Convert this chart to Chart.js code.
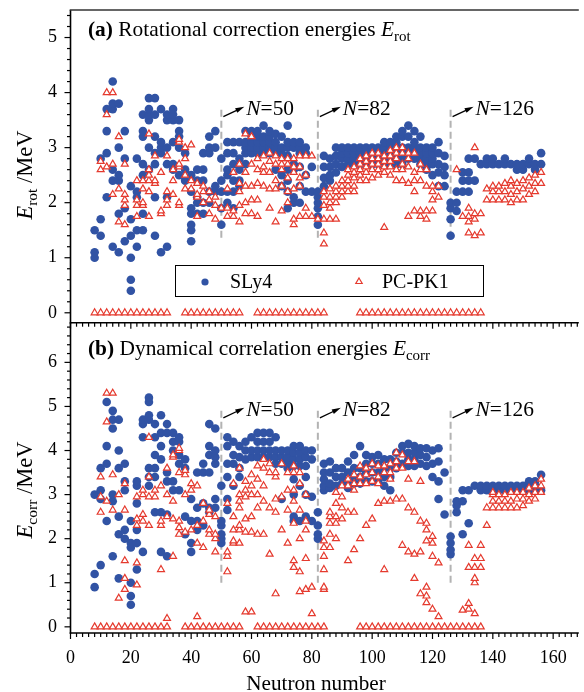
<!DOCTYPE html>
<html><head><meta charset="utf-8">
<script src="https://cdn.jsdelivr.net/npm/chart.js@4.4.1/dist/chart.umd.min.js"></script>
<style>
html,body{margin:0;padding:0;background:#fff;}
#wrap{position:relative;width:584px;height:692px;overflow:hidden;background:#fff;}
canvas{position:absolute;left:0;}
#ca{top:0;}
#cb{top:315px;}
</style></head><body>
<div id="wrap"><canvas id="cb" width="584" height="377"></canvas><canvas id="ca" width="584" height="330"></canvas></div>
<script>
// ---------- DATA ----------
const xTicks = [0,20,40,60,80,100,120,140,160];
const yTicksRot = [0,1,2,3,4,5];
const yTicksCorr = [0,1,2,3,4,5,6];
const shellN = [50,82,126];
const shellLabels = ['50','82','126'];

// (a) rotational correction energies, SLy4: [N, [E...]]
const rotSLy4 = [
[8,[1.0,1.1,1.5]],[10,[1.4,1.7,2.8]],[12,[2.1,2.9,3.3,3.7]],[14,[1.2,2.4,2.6,3.7,3.8,4.2]],
[16,[1.1,1.8,2.4,2.5,3.0,3.8]],[18,[1.3,1.9,2.8,3.3]],[20,[0.4,0.6,1.0,1.4,1.7,2.3]],
[22,[1.2,1.5,2.1,2.2,2.8]],[24,[1.5,1.8,2.5,2.7,3.2,3.3,3.6]],[26,[2.6,3.0,3.5,3.6,3.7,3.9]],
[28,[1.4,2.1,2.7,2.9,3.2,3.6,3.9]],[30,[1.1,2.9,3.0,3.1,3.7]],[32,[1.2,2.1,2.7,3.0,3.5,3.6]],
[34,[2.6,2.7,3.1,3.5,3.6,3.7]],[36,[2.5,3.0,3.2,3.3,3.5]],[38,[2.4,2.6,2.9]],
[40,[1.3,1.5,1.6,1.8,1.9,2.2,2.5]],[42,[1.8,2.0,2.1,2.4,2.6]],[44,[1.8,2.0,2.4,2.6,2.9]],
[46,[2.0,2.2,2.9,3.0,3.2]],[48,[2.2,2.3,3.0,3.3]],[50,[1.6,1.9,2.2,2.4,2.8]],
[52,[2.0,2.2,2.5,2.6,2.9,3.1]],[54,[1.9,2.2,2.4,2.7,2.9,3.1]],[56,[2.3,2.4,2.6,2.8,3.1]],
[58,[2.7,2.9,3.0,3.1,3.3]],[60,[2.9,3.0,3.1,3.2,3.3]],[62,[2.9,3.0,3.1,3.2,3.3]],
[64,[2.9,3.0,3.1,3.2,3.4]],[66,[2.9,3.0,3.1,3.2,3.3]],[68,[2.6,2.9,3.0,3.1,3.25]],
[70,[2.3,2.5,2.9,3.0,3.2]],[72,[1.9,2.2,2.4,2.6,2.85,3.0,3.1,3.4]],[74,[2.0,2.1,2.6,2.7,3.0,3.1]],
[76,[2.0,2.3,2.65,2.9,3.0,3.1]],[78,[2.2,2.5,2.9,3.0]],[80,[2.2,2.65]],
[82,[1.6,1.75,1.9,2.0,2.1,2.2]],[84,[2.3,2.45,2.65,2.85]],[86,[2.4,2.5,2.65,2.8]],
[88,[2.55,2.7,2.85,3.0]],[90,[2.65,2.8,2.9,3.0]],[92,[2.7,2.8,2.9,3.0]],[94,[2.7,2.8,2.9,3.0]],
[96,[2.7,2.8,2.9,3.0]],[98,[2.7,2.8,2.9,3.0]],[100,[2.7,2.8,2.9,3.0]],[102,[2.7,2.8,2.9,3.0]],
[104,[2.7,2.8,2.9,3.0,3.1]],[106,[2.7,2.8,2.9,3.0,3.1]],[108,[2.7,2.8,2.9,3.0,3.1,3.2]],
[110,[2.7,2.8,2.9,3.0,3.2,3.3]],[112,[2.8,2.9,3.0,3.2,3.4]],[114,[2.8,2.9,3.0,3.1,3.3]],
[116,[2.7,2.8,2.9,3.0,3.2]],[118,[2.6,2.7,2.8,2.9,3.0]],[120,[2.5,2.7,2.8,2.9,3.0]],
[122,[2.3,2.55,2.7,2.9,3.1]],[124,[2.3,2.5,2.65,2.85]],[126,[1.4,1.7,1.9,2.0]],
[128,[1.85,2.0,2.2]],[130,[2.2,2.4,2.55]],[132,[2.2,2.4,2.55,2.8]],[134,[2.4,2.8]],
[136,[2.7]],[138,[2.7,2.8]],[140,[2.7,2.8]],[142,[2.7]],[144,[2.7,2.8]],[146,[2.7]],
[148,[2.6,2.7]],[150,[2.6,2.7]],[152,[2.7,2.8]],[154,[2.6,2.7]],[156,[2.7,2.9]]
];
// (a) PC-PK1 non-zero values
const rotPCPK1 = [
[10,[2.6,2.75]],[12,[2.65,3.6,4.0]],[14,[2.15,2.7,4.0]],[16,[1.65,2.25,3.2]],
[18,[1.6,1.95,2.05,2.15,2.7]],[22,[1.75,1.95,2.05,2.4]],[24,[1.95,2.0,2.25,2.4]],
[26,[1.75,2.2,2.4,2.5,2.6,3.25]],[28,[2.35,2.4,2.85]],[30,[1.8,1.85,2.55]],
[32,[1.95,2.05,2.2,2.85]],[34,[2.15,2.4,2.6]],[36,[1.95,2.0,2.65,2.7,3.1,3.15]],
[38,[2.25,2.5,2.8,3.0]],[40,[2.25,2.4,3.05]],[42,[1.75,2.1,2.15,2.35]],[44,[2.0,2.2,2.3]],
[46,[1.8,2.05,2.2]],[48,[1.7,1.95,2.1]],[50,[1.9]],[52,[1.75,1.9,2.25]],[54,[1.75,1.85,2.55]],
[56,[1.65,1.95,2.2,2.35,2.7]],[58,[1.8,2.0,2.3,2.55,3.25]],[60,[1.8,2.05,2.3,2.7,3.2]],
[62,[1.75,2.05,2.35,2.6,2.8]],[64,[2.3,2.55,2.65,2.85]],[66,[1.9,2.25,2.55,2.75,2.9]],
[68,[1.65,2.25,2.4,2.7,2.85]],[70,[1.85,2.3,2.6,2.7,2.8]],[72,[2.0,2.2,2.45,2.7,2.8]],
[74,[1.6,1.7,2.25,2.55,2.65,2.8]],[76,[1.75,2.3,2.45,2.65,2.85]],[78,[1.75,1.9,2.5,2.85]],
[80,[1.75,2.85]],[82,[1.7]],[84,[1.25,1.45,1.7,1.95,2.1,2.2]],[86,[1.7,1.9,2.0,2.1,2.25]],
[88,[1.7,2.0,2.1,2.2,2.3]],[90,[2.1,2.2,2.3,2.4]],[92,[2.2,2.3,2.4,2.5,2.6]],
[94,[2.2,2.3,2.45,2.55,2.65]],[96,[2.4,2.5,2.6,2.7,2.8]],[98,[2.4,2.55,2.65,2.75,2.85]],
[100,[2.45,2.6,2.7,2.8,2.9]],[102,[2.5,2.6,2.7,2.8,2.9]],[104,[1.55,2.55,2.65,2.75,2.85]],
[106,[2.5,2.65,2.75,2.85,2.95]],[108,[2.4,2.6,2.8,2.9,3.0]],[110,[2.4,2.6,2.7,2.9,3.0]],
[112,[1.75,2.35,2.65,2.8,2.9]],[114,[1.85,2.2,2.4,2.55,2.9]],[116,[1.75,1.85,2.4,2.6,2.7]],
[118,[1.7,1.85,2.3,2.6]],[120,[1.85,2.05,2.2,2.3]],[122,[2.1,2.3]],[128,[2.6]],[130,[1.75]],
[132,[1.45,1.65,1.75,1.9]],[134,[1.4,1.7,1.8,3.0]],[136,[1.45,1.8]],[138,[2.05,2.25]],
[140,[2.05,2.2,2.3]],[142,[2.05,2.2,2.3]],[144,[2.05,2.2,2.35]],[146,[2.0,2.15,2.3,2.4]],
[148,[2.05,2.2,2.35]],[150,[2.05,2.25,2.4]],[152,[2.15,2.3,2.45]],[154,[2.2,2.35,2.5]],[156,[2.35,2.55]]
];
const rotPCPK1ZeroN = [8,10,12,14,16,18,20,22,24,26,28,30,32,38,40,42,44,46,48,50,52,54,56,
62,64,66,68,70,72,74,76,78,80,82,84,96,98,100,102,104,106,108,110,112,114,116,118,120,122,124,126,128,130,132,134,136];

// (b) dynamical correlation energies, SLy4
const corrSLy4 = [
[8,[0.9,1.2,3.0]],[10,[1.4,2.9,3.1,3.6]],[12,[2.4,3.7,4.1,5.1]],[14,[1.6,2.85,3.0,4.5,4.7,4.9]],
[16,[1.1,2.1,2.5,3.6,4.0,4.7]],[18,[2.0,2.2,3.1,3.3,3.7]],[20,[0.5,0.7,1.0,1.8,1.9,2.4]],
[22,[1.3,1.9,2.2,2.8,3.2,3.3]],[24,[1.7,4.3,4.6,4.7]],[26,[3.2,3.4,3.6,4.7,4.8,5.1,5.2]],
[28,[2.6,3.4,3.6,3.9,4.3,4.6]],[30,[1.7,2.6,3.8,4.1,4.4,4.8]],[32,[1.6,2.55,3.3,3.5,4.4,4.6]],
[34,[3.1,3.3,4.0,4.2,4.4]],[36,[3.1,3.7,3.9,4.2,4.3]],[38,[2.1,2.5,3.6,3.8]],
[40,[1.7,1.9,2.4,2.9]],[42,[2.2,2.4,2.7,3.5]],[44,[2.3,2.8,3.5,3.7]],
[46,[2.6,2.7,3.5,3.9,4.1,4.6]],[48,[2.7,2.9,3.7,3.85,4.0,4.5]],[50,[1.9,2.0,2.1,2.3,2.4,3.2]],
[52,[2.65,2.9,3.4,3.7,4.1,4.3]],[54,[3.2,3.7,3.9,4.2]],[56,[3.4,3.6,3.85,4.1]],
[58,[3.8,4.0,4.2]],[60,[3.85,4.0,4.3]],[62,[3.85,4.0,4.2,4.4]],[64,[3.85,4.0,4.2,4.4]],
[66,[3.85,4.0,4.2,4.4]],[68,[3.7,3.85,4.0,4.3]],[70,[2.9,3.7,3.85,4.0]],[72,[3.6,3.7,3.8,3.85,4.0]],
[74,[2.4,2.5,3.0,3.35,3.65,3.8,3.95,4.1]],[76,[2.4,3.2,3.65,3.8,3.95,4.1]],[78,[2.5,3.0,3.4,3.65,3.85,4.0]],
[80,[2.4,2.95,3.8,4.0]],[82,[2.0,2.1,2.3,2.6]],[84,[3.1,3.2,3.35,3.5,3.7]],[86,[3.15,3.25,3.5,3.75]],
[88,[3.2,3.4,3.6]],[90,[3.25,3.4,3.6]],[92,[3.15,3.25,3.5,3.75]],[94,[3.25,3.4,3.6,3.9]],
[96,[3.25,3.4,3.6,4.1]],[98,[3.3,3.5,3.7,3.9]],[100,[3.3,3.5,3.7,3.85]],[102,[3.3,3.5,3.7,3.9]],
[104,[3.2,3.4,3.6,3.8]],[106,[3.1,3.4,3.6,3.8]],[108,[3.6,3.75,3.95]],[110,[3.7,3.95,4.1]],
[112,[3.65,3.8,3.95,4.15]],[114,[3.65,3.8,3.95,4.1]],[116,[3.7,3.9,4.05]],[118,[3.65,3.85,4.05]],
[120,[3.4,3.7,4.0]],[122,[2.9,3.3,3.75,4.05]],[124,[2.55,3.5]],[126,[1.65,1.75,1.9,2.05]],
[128,[2.6,2.75,2.85]],[130,[2.1,2.85,3.1]],[132,[2.35,3.1]],[134,[3.2]],[136,[3.1,3.2]],
[138,[3.1,3.2]],[140,[3.1,3.2]],[142,[3.1,3.2]],[144,[3.1,3.2]],[146,[3.1,3.2]],[148,[3.1,3.2]],
[150,[3.1,3.2]],[152,[3.1,3.2,3.3]],[154,[3.1,3.2,3.3]],[156,[3.1,3.45]]
];
// (b) PC-PK1 non-zero values
const corrPCPK1 = [
[10,[2.6,2.95,3.4]],[12,[2.85,4.65,5.3]],[14,[2.65,3.45,5.3]],[16,[0.65,3.0]],
[18,[0.85,1.1,1.5,2.65,3.25]],[22,[0.95,1.45,2.3,2.45,2.95]],[24,[2.4,2.55,3.0,3.1]],
[26,[2.3,2.95,3.4,4.3]],[28,[2.95,3.1]],[30,[1.3,2.3,2.4,3.2]],[32,[0.19,2.5,3.0,3.6]],
[34,[1.6,2.45,2.85,3.85,3.9]],[36,[2.1,2.25,2.4,3.5,4.0,4.05]],[38,[2.15,3.0,3.45,3.55]],
[40,[2.2,3.1,3.25]],[42,[0.23,1.9,2.3,3.2]],[44,[1.8,2.4,2.8]],[46,[2.1,2.2,2.55,2.65]],
[48,[1.7,2.0,2.1,2.5]],[52,[1.25,1.6,1.7,2.8]],[54,[1.9,1.95,2.2,2.5,3.25]],
[56,[1.9,2.2,2.3,2.7,2.85,3.0,3.6]],[58,[0.34,2.15,2.45,2.95,3.1,3.3]],[60,[0.34,2.15,2.5,3.0,3.2,3.45]],
[62,[2.1,2.7,3.0,3.35,3.65]],[64,[2.1,2.85,3.2,3.6,3.8]],[66,[1.65,2.7,3.5,3.7]],
[68,[0.75,2.6,2.9,3.4,3.5]],[70,[2.2,2.95,3.7]],[72,[1.9,2.65,3.1,3.5]],
[74,[1.35,1.5,2.35,2.85,3.1,3.5,3.65]],[76,[0.8,1.25,2.0,2.65,3.25,3.5]],[78,[0.85,1.55,2.2,2.4,3.0]],
[80,[0.3,0.9]],[84,[0.85,0.9,1.3,1.6,1.8,1.95]],[86,[1.8,2.1,2.35,2.5,2.6]],
[88,[2.0,2.35,2.5,2.8,3.05]],[90,[2.45,2.7,2.95,3.2]],[92,[1.5,2.6,3.2,3.35]],
[94,[1.75,2.6,3.1,3.25,3.45]],[96,[2.0,3.25,3.4,3.65]],[98,[2.3,3.25,3.45,3.6]],
[100,[2.45,3.3,3.5,3.7]],[102,[2.8,3.25,3.4,3.65]],[104,[1.3,2.85,3.5,3.65]],
[106,[2.85,3.35,3.5,3.7]],[108,[2.9,3.6,3.75,3.95]],[110,[1.85,2.9,3.6,3.9]],
[112,[1.7,2.7,3.35,3.75]],[114,[1.1,1.65,2.6,3.75]],[116,[0.75,1.7,2.4,3.3]],
[118,[0.55,0.7,0.9,1.95,2.2,2.35]],[120,[0.4,1.6,1.9,2.05]],[122,[0.23,1.45]],[130,[0.38]],
[132,[0.4,0.53,1.35,1.85]],[134,[0.3,1.0,1.1,1.35,1.55]],[136,[1.35,1.55,1.85]],[138,[2.3,2.7]],
[140,[2.7,2.85,3.0,3.05]],[142,[2.7,2.85,3.0]],[144,[2.7,2.85,3.0]],[146,[2.7,2.85,3.05]],
[148,[2.7,2.9,3.05]],[150,[2.75,2.9,3.05]],[152,[2.85,3.0,3.15]],[154,[2.9,3.05,3.2]],[156,[3.05,3.2,3.35]]
];
const corrPCPK1ZeroN = [8,10,12,14,16,18,20,22,24,26,28,30,32,38,40,42,44,46,48,50,52,54,56,
62,64,66,68,70,72,74,76,78,80,82,84,96,98,100,102,104,106,108,110,112,114,116,118,120,122,124,126,128,130,132,134,136];

// ---------- STYLE ----------
const SERIF = '"Liberation Serif","Times New Roman",serif';
const F = (st, sz) => `${st} ${sz}px ${SERIF}`;
const BLUE = '#3153a4', RED = '#e53a2e';
const TF = 21.4;

function expand(rows, zeros){
  const out = [];
  rows.forEach(([n, vals]) => vals.forEach(v => out.push({x:n, y:v})));
  (zeros||[]).forEach(n => out.push({x:n, y:0}));
  return out;
}

function drawRich(ctx, x, y, parts, align){
  let w = 0;
  parts.forEach(p => { ctx.font = p.f; p.w = ctx.measureText(p.t).width; w += p.w; });
  let cx = align === 'center' ? x - w/2 : x;
  ctx.textAlign = 'left'; ctx.textBaseline = 'alphabetic';
  parts.forEach(p => { ctx.font = p.f; ctx.fillText(p.t, cx, y + (p.dy||0)); cx += p.w; });
}

const frame = {
  id: 'frame',
  beforeDatasetsDraw(chart, args, o){
    const ctx = chart.ctx, xs = chart.scales.x, ys = chart.scales.y;
    ctx.save();
    ctx.strokeStyle = '#b3b3b3'; ctx.lineWidth = 2; ctx.setLineDash([7,4]);
    shellN.forEach(n => {
      const px = xs.getPixelForValue(n);
      ctx.beginPath(); ctx.moveTo(px, ys.getPixelForValue(o.shellTop)); ctx.lineTo(px, ys.getPixelForValue(o.shellBot)); ctx.stroke();
    });
    ctx.restore();
  },
  afterDraw(chart, args, o){
    const ctx = chart.ctx, xs = chart.scales.x, ys = chart.scales.y, ca = chart.chartArea;
    ctx.save();
    ctx.strokeStyle = '#000'; ctx.lineWidth = 1.6; ctx.setLineDash([]);
    ctx.beginPath(); ctx.moveTo(ca.left, ca.top); ctx.lineTo(ca.left, ca.bottom + 0.8); ctx.stroke();
    ctx.beginPath(); ctx.moveTo(ca.left - 0.8, ca.bottom); ctx.lineTo(ca.right, ca.bottom); ctx.stroke();
    if (o.topLine){ ctx.strokeStyle = '#333'; ctx.beginPath(); ctx.moveTo(ca.left - 0.8, ca.top); ctx.lineTo(ca.right, ca.top); ctx.stroke(); ctx.strokeStyle = '#000'; }
    ctx.lineWidth = 1.2;
    for (let v = 0; v <= xs.max + 1e-6; v += 2){
      const major = xTicks.some(t => Math.abs(t - v) < 1e-6);
      const px = xs.getPixelForValue(v);
      ctx.beginPath(); ctx.moveTo(px, ca.bottom); ctx.lineTo(px, ca.bottom + (major ? 6 : 4)); ctx.stroke();
    }
    for (let k = 0; ; k++){
      const v = k * 0.2; if (v > ys.max + 1e-6) break;
      const major = o.yTicks.some(t => Math.abs(t - v) < 1e-6);
      const py = ys.getPixelForValue(v);
      ctx.beginPath(); ctx.moveTo(ca.left, py); ctx.lineTo(ca.left - (major ? 6 : 3.5), py); ctx.stroke();
    }
    ctx.fillStyle = '#000';
    drawRich(ctx, 88, o.titleY, o.titleParts, 'left');
    ctx.save(); ctx.translate(32, o.yTitleC); ctx.rotate(-Math.PI/2);
    drawRich(ctx, 0, 0, o.yTitleParts, 'center');
    ctx.restore();
    shellN.forEach((n, i) => {
      const lx = xs.getPixelForValue(n), ly = ys.getPixelForValue(o.shellTop);
      const x0 = lx + 2, y0 = ly + 7, x1 = lx + 23, y1 = ly - 3;
      ctx.lineWidth = 1.3;
      ctx.beginPath(); ctx.moveTo(x0, y0); ctx.lineTo(x1 - 5, y1 + 2.4); ctx.stroke();
      const a = Math.atan2(y1 - y0, x1 - x0);
      ctx.beginPath(); ctx.moveTo(x1, y1);
      ctx.lineTo(x1 - 9*Math.cos(a) + 2.6*Math.sin(a), y1 - 9*Math.sin(a) - 2.6*Math.cos(a));
      ctx.lineTo(x1 - 9*Math.cos(a) - 2.6*Math.sin(a), y1 - 9*Math.sin(a) + 2.6*Math.cos(a));
      ctx.closePath(); ctx.fill();
      drawRich(ctx, lx + 25, ly + 5, [{t:'N', f:F('italic',TF)}, {t:'=' + shellLabels[i], f:F('',TF)}], 'left');
    });
    if (o.xTitle){ ctx.font = F('', 21.2); ctx.textAlign = 'center'; ctx.textBaseline = 'alphabetic'; ctx.fillText('Neutron number', 316, o.xTitleY); }
    if (o.legend){
      ctx.lineWidth = 1; ctx.strokeStyle = '#000';
      ctx.strokeRect(175.5, 265.5, 308, 31);
      ctx.fillStyle = BLUE; ctx.beginPath(); ctx.arc(205, 282, 3.6, 0, Math.PI*2); ctx.fill();
      ctx.strokeStyle = RED; ctx.lineWidth = 1.2; ctx.beginPath();
      ctx.moveTo(359, 278); ctx.lineTo(362.2, 283.5); ctx.lineTo(355.8, 283.5); ctx.closePath(); ctx.stroke();
      ctx.fillStyle = '#000'; ctx.font = F('', 20); ctx.textAlign = 'left'; ctx.textBaseline = 'alphabetic';
      ctx.fillText('SLy4', 230, 288); ctx.fillText('PC-PK1', 382, 288);
    }
    ctx.restore();
  }
};

function zeroPad(s){ s.paddingTop = 0; s.paddingBottom = 0; s.paddingLeft = 0; s.paddingRight = 0; }

function makeChart(id, sly, pc, zeros, cfg){
  return new Chart(document.getElementById(id), {
    type: 'scatter',
    data: { datasets: [
      { label:'PC-PK1', data: expand(pc, zeros), order:0, pointStyle:'triangle', pointRadius:4, pointBorderWidth:1.2,
        pointBackgroundColor:'#fff', pointBorderColor:RED, pointHoverRadius:4 },
      { label:'SLy4', data: expand(sly), order:1, pointStyle:'circle', pointRadius:4.3, pointBorderWidth:0,
        pointBackgroundColor:BLUE, pointBorderColor:BLUE, pointHoverRadius:4.3 }
    ]},
    options: {
      responsive:false, animation:false, devicePixelRatio:1, events:[],
      layout:{ padding:{ top:cfg.padTop, left:0, right:0, bottom:0 } },
      plugins:{ legend:{display:false}, tooltip:{enabled:false}, frame: cfg.frame },
      scales:{
        x:{ type:'linear', min:0, max:168.5,
            afterBuildTicks: s => { s.ticks = xTicks.map(v => ({value:v})); },
            afterFit: s => { s.height = cfg.xH; zeroPad(s); },
            grid:{display:false, drawTicks:false}, border:{display:false},
            ticks:{ display: cfg.xLabels, font:{family:SERIF, size:18}, color:'#000', padding:14.7, maxRotation:0, autoSkip:false } },
        y:{ type:'linear', min:cfg.yMin, max:cfg.yMax,
            afterBuildTicks: s => { s.ticks = cfg.yTicks.map(v => ({value:v})); },
            afterFit: s => { s.width = 70.5; zeroPad(s); },
            grid:{display:false, drawTicks:false}, border:{display:false},
            ticks:{ font:{family:SERIF, size:18}, color:'#000', padding:13.5, autoSkip:false } }
      }
    },
    plugins:[frame]
  });
}

makeChart('ca', rotSLy4, rotPCPK1, rotPCPK1ZeroN, {
  padTop:10, xH:7.3, xLabels:false, yMin:-0.18, yMax:5.5, yTicks:yTicksRot,
  frame:{ yTicks:yTicksRot, topLine:true, legend:true, shellTop:3.69, shellBot:1.3, titleY:36, yTitleC:175,
    titleParts:[{t:'(a)', f:F('bold',TF)}, {t:' Rotational correction energies ', f:F('',TF)}, {t:'E', f:F('italic',TF)}, {t:'rot', f:F('',15), dy:5}],
    yTitleParts:[{t:'E', f:F('italic',22.5)}, {t:'rot', f:F('',15.5), dy:5}, {t:' /MeV', f:F('',22.5)}] }
});
makeChart('cb', corrSLy4, corrPCPK1, corrPCPK1ZeroN, {
  padTop:7.7, xH:59, xLabels:true, yMin:-0.14, yMax:6.9, yTicks:yTicksCorr,
  frame:{ yTicks:yTicksCorr, topLine:false, legend:false, shellTop:4.9, shellBot:0.99, titleY:355-315, yTitleC:490-315,
    xTitle:true, xTitleY:690-315,
    titleParts:[{t:'(b)', f:F('bold',TF)}, {t:' Dynamical correlation energies ', f:F('',TF)}, {t:'E', f:F('italic',TF)}, {t:'corr', f:F('',15), dy:5}],
    yTitleParts:[{t:'E', f:F('italic',22.5)}, {t:'corr', f:F('',15.5), dy:5}, {t:' /MeV', f:F('',22.5)}] }
});
</script>
</body></html>
